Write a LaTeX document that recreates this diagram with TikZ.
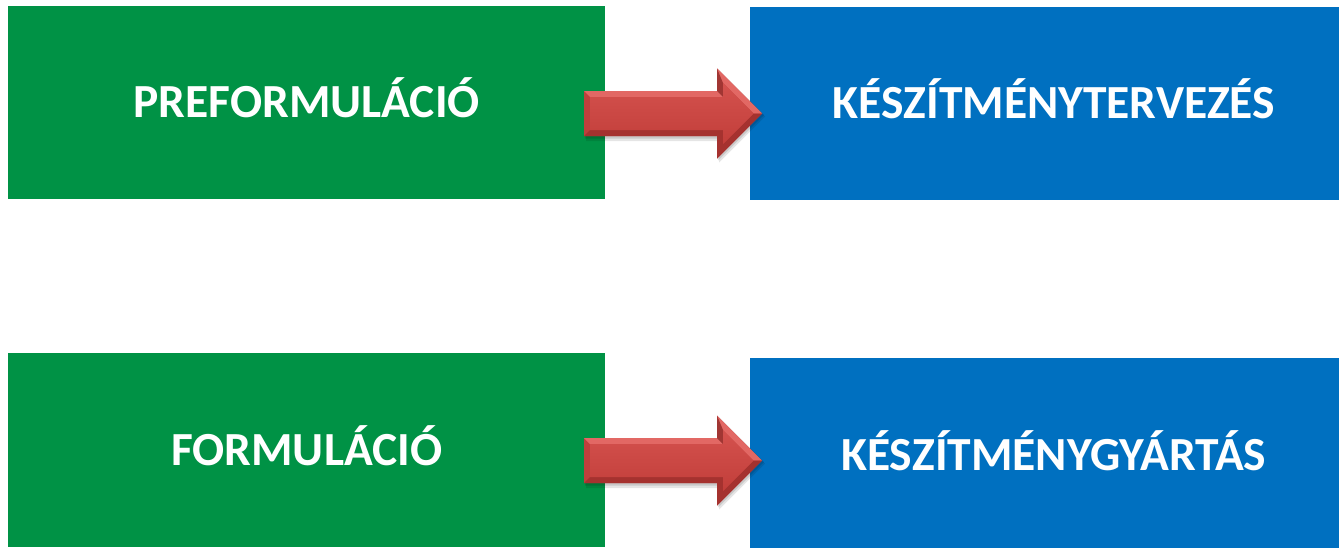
\documentclass[tikz,border=0pt]{standalone}
\usepackage{fontspec}
\setmainfont{Carlito}
\definecolor{boxgreen}{RGB}{0,146,69}
\definecolor{boxblue}{RGB}{0,112,192}
\definecolor{arrmid}{RGB}{190,64,60}
\definecolor{arrlight}{RGB}{226,104,100}
\definecolor{arrdark}{RGB}{165,50,47}
\definecolor{arrfacetop}{RGB}{212,82,78}
\definecolor{arrfacebot}{RGB}{194,62,58}
\newcommand{\myredarrow}[1]{%
  \begin{scope}[shift={(#1)}]
    \fill[black,opacity=0.10] (2,-20.5) -- (135,-20.5) -- (135,-43) -- (181,3) -- (135,49) -- (135,27.5) -- (2,27.5) -- cycle;
    \fill[black,opacity=0.12] (1,-21.5) -- (134,-21.5) -- (134,-44) -- (180,1.5) -- (134,47) -- (134,25) -- (1,25) -- cycle;
    \fill[arrmid] (0,-22.5) -- (133,-22.5) -- (133,-45) -- (178,0) -- (133,45) -- (133,22.5) -- (0,22.5) -- cycle;
    \fill[arrlight] (0,-22.5) -- (133,-22.5) -- (133,-45) -- (178,0) -- (169.5,0) -- (139,-30.5) -- (139,-16.5) -- (6,-16.5) -- cycle;
    \fill[arrdark] (0,22.5) -- (133,22.5) -- (133,45) -- (178,0) -- (169.5,0) -- (139,30.5) -- (139,16.5) -- (6,16.5) -- cycle;
    \fill[arrmid!85!black] (133,-45) -- (139,-30.5) -- (139,-16.5) -- (133,-22.5) -- cycle;
    \shade[top color=arrfacetop, bottom color=arrfacebot] (6,-16.5) -- (139,-16.5) -- (139,-30.5) -- (169.5,0) -- (139,30.5) -- (139,16.5) -- (6,16.5) -- cycle;
  \end{scope}}
\begin{document}
\begin{tikzpicture}[x=1pt,y=-1pt,
  box/.style={rectangle, inner sep=0pt, anchor=north west, text=white,
    font=\fontsize{47.5}{56}\selectfont\bfseries, text height=30pt, text depth=0pt},
  greenbox/.style={box, fill=boxgreen, minimum width=597pt},
  bluebox/.style={box, fill=boxblue, minimum width=607pt}]
\useasboundingbox (0,0) rectangle (1339,547);
\fill[white] (0,0) rectangle (1339,547);
\node[greenbox, minimum height=193pt] (pre) at (8,6) {PREFORMULÁCIÓ};
\node[bluebox, minimum height=193pt] (ktv) at (750,7) {KÉSZÍTMÉNYTERVEZÉS};
\node[greenbox, minimum height=194pt] (form) at (8,353) {FORMULÁCIÓ};
\node[bluebox, minimum height=194pt] (kgy) at (750,358) {KÉSZÍTMÉNYGYÁRTÁS};
\coordinate (a1) at (584,113.5);
\coordinate (a2) at (584,460.5);
\myredarrow{a1}
\myredarrow{a2}
\end{tikzpicture}
\end{document}
